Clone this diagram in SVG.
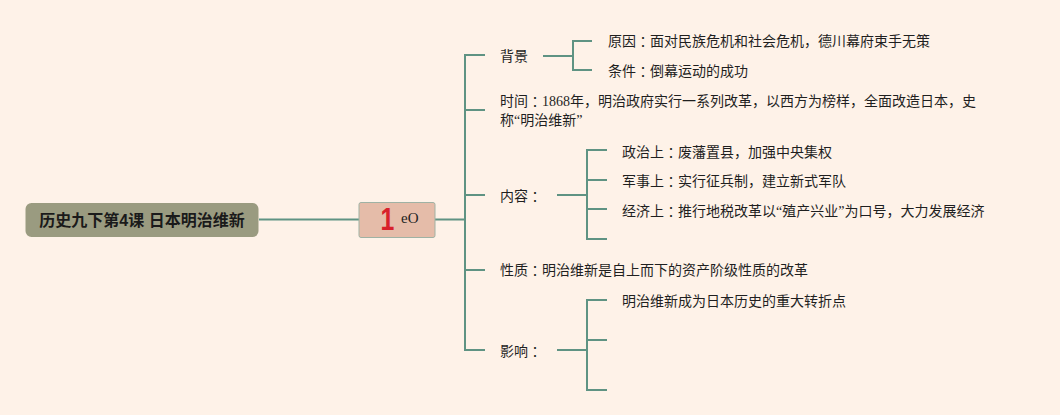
<svg xmlns="http://www.w3.org/2000/svg" width="1060" height="415" viewBox="0 0 1060 415">
<style>
.bg{fill:#fef2e8}
.ln{fill:none;stroke:#5f9383;stroke-width:2;stroke-linejoin:miter;stroke-linecap:butt}
.t{font-family:"Liberation Serif","Noto Sans CJK SC",serif;font-size:14px;fill:#1f1f1f;dominant-baseline:central}
.c{font-family:"Noto Sans CJK TC","Noto Sans CJK SC",sans-serif}
.root{font-family:"Liberation Sans","Noto Sans CJK SC",sans-serif;font-size:16px;font-weight:bold;fill:#1a1a1a;dominant-baseline:central;text-anchor:middle}
</style>
<rect class="bg" x="0" y="0" width="1060" height="415"/>
<g id="connectors">
<path class="ln" d="M259 219.5H359"/>
<path class="ln" d="M435 219.5H465"/>
<path class="ln" d="M485 55H465V350H485M465 110H485M465 195H485M465 270H485"/>
<path class="ln" d="M543 56H573M592 41H573V70H592"/>
<path class="ln" d="M557 195H587M607 150H587V239H607M587 180H607M587 209H607"/>
<path class="ln" d="M557 350H587M607 300H587V390H607M587 340H607"/>
</g>
<g id="root">
<rect x="25.5" y="203" width="233" height="34" rx="6" fill="#9a9b80"/>
<text class="root" x="142" y="220">历史九下第4课 日本明治维新</text>
</g>
<g id="hub">
<rect x="359" y="202.5" width="76" height="35" rx="2" fill="#e5bca9" stroke="#9fb2a4" stroke-width="1"/>
<text transform="translate(387.5 230) scale(0.8 1)" font-family="Liberation Sans, sans-serif" font-size="31" font-weight="bold" fill="#d8212b" text-anchor="middle">1</text>
<text x="401" y="223" font-family="Liberation Serif, serif" font-size="15" fill="#1f1f1f">eO</text>
</g>
<g id="n-beijing"><text class="t" x="500" y="56">背景</text></g>
<g id="n-yuanyin"><text class="t" x="608" y="41">原因<tspan class="c">：</tspan>面对民族危机和社会危机，德川幕府束手无策</text></g>
<g id="n-tiaojian"><text class="t" x="608" y="71">条件<tspan class="c">：</tspan>倒幕运动的成功</text></g>
<g id="n-shijian"><text class="t" x="500" y="101">时间<tspan class="c">：</tspan>1868年，明治政府实行一系列改革，以西方为榜样，全面改造日本，史</text><text class="t" x="500" y="120">称“明治维新”</text></g>
<g id="n-neirong"><text class="t" x="500" y="196">内容<tspan class="c">：</tspan></text></g>
<g id="n-zhengzhi"><text class="t" x="622" y="152">政治上<tspan class="c">：</tspan>废藩置县，加强中央集权</text></g>
<g id="n-junshi"><text class="t" x="622" y="181">军事上<tspan class="c">：</tspan>实行征兵制，建立新式军队</text></g>
<g id="n-jingji"><text class="t" x="622" y="211">经济上<tspan class="c">：</tspan>推行地税改革以“殖产兴业”为口号，大力发展经济</text></g>
<g id="n-xingzhi"><text class="t" x="500" y="270">性质<tspan class="c">：</tspan>明治维新是自上而下的资产阶级性质的改革</text></g>
<g id="n-yingxiang"><text class="t" x="500" y="351">影响<tspan class="c">：</tspan></text></g>
<g id="n-zhuanzhe"><text class="t" x="622" y="301">明治维新成为日本历史的重大转折点</text></g>
</svg>
